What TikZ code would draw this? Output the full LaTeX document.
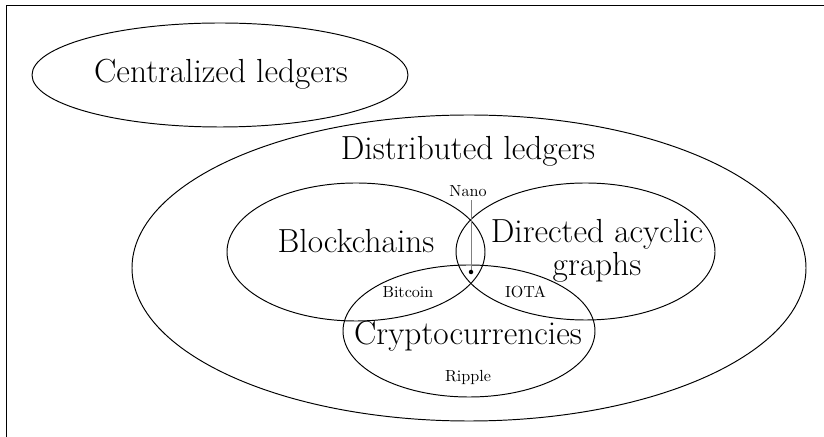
\documentclass[tikz,border=0pt]{standalone}
\usetikzlibrary{shapes.geometric}
\begin{document}
\begin{tikzpicture}[x=0.6211pt,y=-0.6211pt,
  set/.style={draw, ellipse, inner sep=0pt, line width=0.6pt},
  big/.style={font=\huge, inner sep=0pt, anchor=base},
  small/.style={font=\normalsize, inner sep=0pt, anchor=base}]
\useasboundingbox (0,0) rectangle (824,437);
% frame
\coordinate (fbl) at (6.5,437);
\coordinate (ftl) at (6.5,5);
\coordinate (ftr) at (824,5);
\draw[line width=0.6pt] (fbl) -- (ftl) -- (ftr);
% sets
\node[set, minimum width=376*0.6211pt, minimum height=104*0.6211pt] (cen) at (220,75) {};
\node[set, minimum width=674*0.6211pt, minimum height=306*0.6211pt] (dis) at (469,268) {};
\node[set, minimum width=258*0.6211pt, minimum height=138*0.6211pt] (blk) at (356,252) {};
\node[set, minimum width=259*0.6211pt, minimum height=137*0.6211pt] (dag) at (585.5,251.5) {};
\node[set, minimum width=252*0.6211pt, minimum height=132*0.6211pt] (cry) at (469,331) {};
% labels
\node[big] (lcen) at (221,83) {Centralized ledgers};
\node[big] (ldis) at (468,160) {Distributed ledgers};
\node[big] (lblk) at (356,253) {Blockchains};
\node[font=\huge, inner sep=0pt, align=center, anchor=center] (ldag) at (597,251)
  {Directed acyclic\\[-4.5pt]graphs};
\node[big] (lcry) at (468,345) {Cryptocurrencies};
\node[small] (btc) at (408,298) {Bitcoin};
\node[small] (iota) at (525.5,298) {IOTA};
\node[small] (xrp) at (468,382) {Ripple};
\node[small] (nano) at (468,197) {Nano};
% Nano pointer
\coordinate (nanodot) at (471,272);
\draw[gray, line width=0.6pt] (nanodot |- nano.south) ++(0,3) -- (nanodot);
\fill (nanodot) circle[radius=1.4pt];
\end{tikzpicture}
\end{document}
